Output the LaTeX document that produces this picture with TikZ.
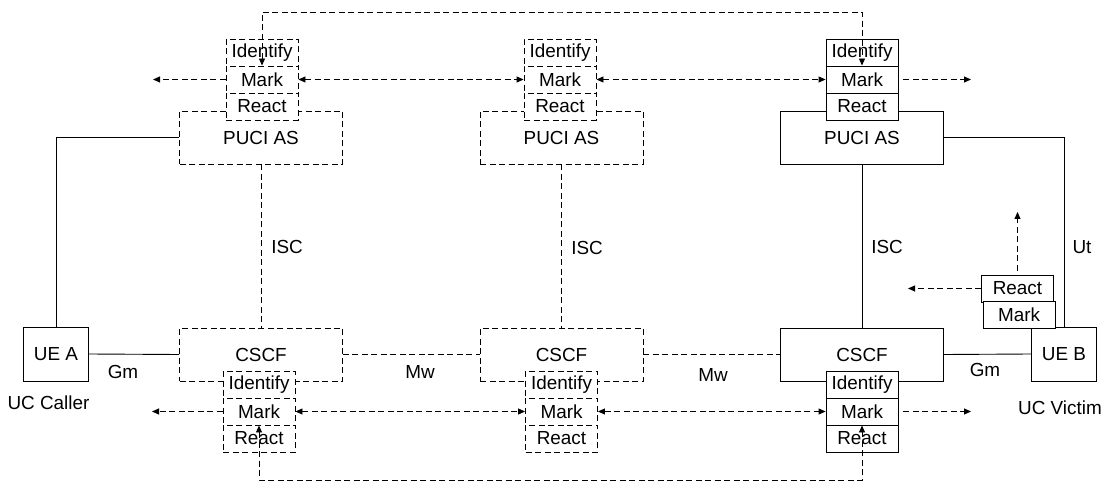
\documentclass[tikz,border=0pt]{standalone}
\usepackage{fontspec}
\setmainfont{Liberation Sans}
\usetikzlibrary{arrows.meta}

\begin{document}
\begin{tikzpicture}[x=1pt, y=-1pt, font=\fontsize{18.9}{20}\selectfont,
    line width=0.9pt,
    dline/.style={dash pattern=on 6pt off 3.5pt},
    sline/.style={solid},
    box/.style={draw, rectangle, inner sep=0pt, fill=white},
    unit/.style={box, minimum width=163pt, minimum height=53pt},
    cell/.style={box, minimum width=72pt, minimum height=27pt},
    ue/.style={box, minimum width=65pt, minimum height=54pt},
    tip/.style={-{Triangle[length=7pt,width=6pt]}},
    tips/.style={{Triangle[length=7pt,width=6pt]}-{Triangle[length=7pt,width=6pt]}}]

    \useasboundingbox (0,0) rectangle (1103,481);

    % Draw PUCI AS and CSCF boxes
    \foreach \n/\x/\s in {l/261/dline, m/561.5/dline, r/862/sline} {
        \node[unit,\s] (\n-as) at (\x,137.5) {PUCI AS};
        \node[unit,\s] (\n-cscf) at (\x,354.5) {CSCF};
    }

    % Draw Identify / Mark / React stacks
    \foreach \n/\x/\s in {l/262/dline, m/560/dline, r/862/sline} {
        \node[cell,\s] (\n-tid) at (\x,52.5) {Identify};
        \node[cell,\s] (\n-tmk) at (\x,79.5) {Mark};
        \node[cell,\s] (\n-trc) at (\x,106.5) {React};
    }
    \foreach \n/\x/\s in {l/259/dline, m/561.5/dline, r/862/sline} {
        \node[cell,\s] (\n-bid) at (\x,384.5) {Identify};
        \node[cell,\s] (\n-bmk) at (\x,411.5) {Mark};
        \node[cell,\s] (\n-brc) at (\x,438.5) {React};
    }

    % Draw user equipment
    \node[ue] (uea) at (56,354) {UE A};
    \node[ue] (ueb) at (1064,354) {UE B};
    \node[cell] (b-rc) at (1017.5,288.5) {React};
    \node[cell] (b-mk) at (1019,315) {Mark};

    % Draw labels
    \node (caller) at (48.5,403) {UC Caller};
    \node (victim) at (1060,408) {UC Victim};
    \node (gm-l) at (123,372) {Gm};
    \node (gm-r) at (985,370) {Gm};
    \node (mw-l) at (420,372) {Mw};
    \node (mw-r) at (713,375) {Mw};
    \node (isc-l) at (287,247) {ISC};
    \node (isc-m) at (587,248) {ISC};
    \node (isc-r) at (887,247) {ISC};
    \node (ut) at (1082,247) {Ut};

    % Draw interfaces
    \draw (uea.north) |- (l-as.west);
    \draw (uea.east) -- (l-cscf.west);
    \draw[dline] (l-as.south) -- (l-cscf.north);
    \draw[dline] (m-as.south) -- (m-cscf.north);
    \draw (r-as.south) -- (r-cscf.north);
    \draw (r-as.east) -| (ueb.north);
    \draw (r-cscf.east) -- (ueb.west);
    \draw[dline] (l-cscf.east) -- (m-cscf.west);
    \draw[dline] (m-cscf.east) -- (r-cscf.west);

    % Draw marking paths
    \coordinate (toprail) at (562,12);
    \coordinate (botrail) at (562,480);
    \draw[dline,tips] (l-tmk.north) |- (toprail) -| (r-tmk.north);
    \draw[dline,tips] (l-bmk.south) |- (botrail) -| (r-bmk.south);

    \coordinate (tl-out) at (153,79.5);
    \coordinate (tr-out) at (971,79.5);
    \coordinate (bl-out) at (152,411.5);
    \coordinate (br-out) at (971,411.5);
    \draw[dline,tip] (l-tmk.west) -- (tl-out);
    \draw[dline,tips] (l-tmk.east) -- (m-tmk.west);
    \draw[dline,tips] (m-tmk.east) -- (r-tmk.west);
    \draw[dline,tip] ([xshift=5pt]r-tmk.east) -- (tr-out);
    \draw[dline,tip] (l-bmk.west) -- (bl-out);
    \draw[dline,tips] (l-bmk.east) -- (m-bmk.west);
    \draw[dline,tips] (m-bmk.east) -- (r-bmk.west);
    \draw[dline,tip] ([xshift=5pt]r-bmk.east) -- (br-out);

    \coordinate (b-up) at (1017.5,212);
    \coordinate (b-left) at (908,288.5);
    \draw[dline,tip] ([yshift=4pt]b-rc.north) -- (b-up);
    \draw[dline,tip] (b-rc.west) -- (b-left);
\end{tikzpicture}
\end{document}
